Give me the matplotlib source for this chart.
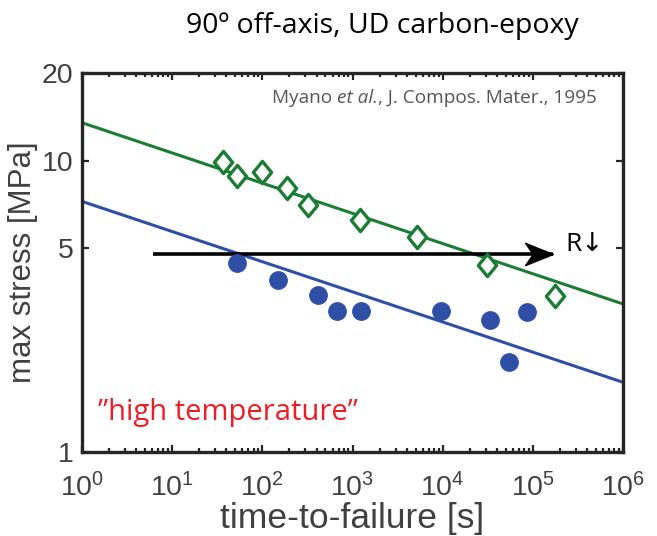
import numpy as np
import matplotlib
matplotlib.use("Agg")
import matplotlib.pyplot as plt
from matplotlib.ticker import FixedLocator, NullFormatter, FixedFormatter, LogLocator
from matplotlib.path import Path
from matplotlib.transforms import offset_copy

plt.rcParams["font.family"] = ["Liberation Sans", "DejaVu Sans"]
plt.rcParams["mathtext.fontset"] = "custom"
plt.rcParams["mathtext.rm"] = "Liberation Sans"
plt.rcParams["mathtext.it"] = "Liberation Sans:italic"

# --- data: (time-to-failure [s], max stress [MPa]) ---
green_t = [36.6, 52, 98, 186, 324, 1210, 5140, 31100, 174600]
green_s = [9.93, 8.89, 9.17, 8.08, 7.07, 6.28, 5.45, 4.40, 3.42]

blue_t = [52.7, 148, 418, 676, 1233, 9530, 33900, 54000, 85900]
blue_s = [4.46, 3.91, 3.46, 3.06, 3.06, 3.05, 2.84, 2.03, 3.02]

# power-law fits: stress = a * t^b
green_fit = (13.5, -0.1037)
blue_fit = (7.25, -0.1035)

arrow_t = [6.1, 166000]
arrow_s = 4.80

x_ticks = [1e0, 1e1, 1e2, 1e3, 1e4, 1e5, 1e6]
y_ticks = [1, 5, 10, 20]
y_ticklabels = ["1", "5", "10", "20"]

GREEN = "#1b7d33"
BLUE = "#2f4ea6"
AXCOL = "#404040"
CAL = ["Open Sans", "DejaVu Sans"]

fig = plt.figure(figsize=(6.57, 5.36), dpi=100)
ax = fig.add_axes([0.1248, 0.1567, 0.8235, 0.7071])

tt = np.logspace(0, 6, 200)
ax.plot(tt, green_fit[0] * tt ** green_fit[1], color=GREEN, lw=2.2, zorder=2)
ax.plot(tt, blue_fit[0] * tt ** blue_fit[1], color=BLUE, lw=2.2, zorder=2)

diamond = Path([(0, 1), (0.82, 0), (0, -1), (-0.82, 0), (0, 1)],
               [Path.MOVETO, Path.LINETO, Path.LINETO, Path.LINETO, Path.CLOSEPOLY])
ax.plot(green_t, green_s, linestyle="none", marker=diamond, markersize=16,
        markerfacecolor="white", markeredgecolor=GREEN, markeredgewidth=2.4, zorder=4)
ax.plot(blue_t, blue_s, linestyle="none", marker="o", markersize=12.5,
        markerfacecolor=BLUE, markeredgecolor=BLUE, zorder=4)

# horizontal arrow with a swept-back head; the head tip sits on the end point
head = 20
ax.plot(arrow_t, [arrow_s, arrow_s], color="black", lw=2.6, solid_capstyle="butt", zorder=3)
stealth = Path([(1, 0), (-1, 0.8), (-0.45, 0), (-1, -0.8), (1, 0)],
               [Path.MOVETO, Path.LINETO, Path.LINETO, Path.LINETO, Path.CLOSEPOLY])
ax.plot([arrow_t[1]], [arrow_s], marker=stealth, markersize=head,
        color="black", linestyle="none", zorder=3,
        transform=offset_copy(ax.transData, fig=fig, x=-head / 2, units="points"))

ax.set_xscale("log")
ax.set_yscale("log")
ax.set_xlim(1, 1e6)
ax.set_ylim(1, 20)

ax.xaxis.set_major_locator(FixedLocator(x_ticks))
ax.xaxis.set_minor_locator(LogLocator(base=10, subs=np.arange(2, 10), numticks=20))
ax.xaxis.set_minor_formatter(NullFormatter())
ax.yaxis.set_major_locator(FixedLocator(y_ticks))
ax.yaxis.set_major_formatter(FixedFormatter(y_ticklabels))
ax.yaxis.set_minor_locator(FixedLocator([]))

ax.tick_params(axis="both", which="both", direction="in", top=True, right=True,
               colors="#262626", labelcolor=AXCOL, labelsize=20.5, width=1.6)
ax.tick_params(axis="both", which="major", length=5)
ax.tick_params(axis="both", which="minor", length=3)
ax.tick_params(axis="x", which="major", pad=15)
ax.tick_params(axis="y", which="major", pad=6)

for sp in ax.spines.values():
    sp.set_linewidth(2.4)
    sp.set_color("#262626")

ax.set_xlabel("time-to-failure [s]", fontsize=25.5, color=AXCOL, labelpad=0)
ax.set_ylabel("max stress [MPa]", fontsize=22.5, color=AXCOL, labelpad=3)

# citation line with an italic "et al."
fig.canvas.draw()
renderer = fig.canvas.get_renderer()
pieces = [("Myano ", "normal"), ("et al.", "italic"), (", J. Compos. Mater., 1995", "normal")]
x_px, y_px = ax.transAxes.transform((0.352, 0.935))
for txt, style in pieces:
    t = fig.text(x_px / fig.bbox.width, y_px / fig.bbox.height, txt, ha="left",
                 va="center", fontsize=13.7, color="#555555", family=CAL, style=style)
    w = t.get_window_extent(renderer).width
    x_px += w

ax.text(0.03, 0.105, "\u201dhigh temperature\u201d", transform=ax.transAxes,
        ha="left", va="center", fontsize=21, color="#ee1c25", family=CAL)
ax.text(0.894, 0.547, "R\u2193", transform=ax.transAxes, ha="left", va="center",
        fontsize=19, color="black", family=CAL)

fig.text(0.582, 0.952, "90\u00ba off-axis, UD carbon-epoxy", ha="center", va="center",
         fontsize=20.5, color="black", family=CAL)

fig.savefig("out.png", dpi=100)
